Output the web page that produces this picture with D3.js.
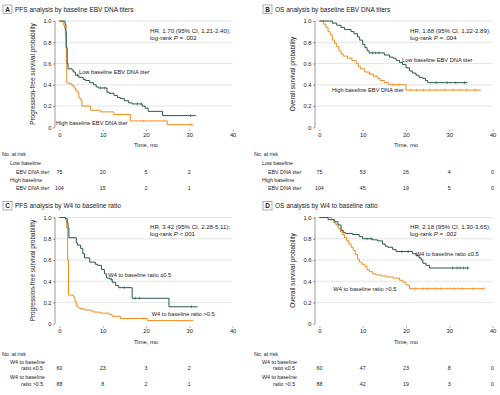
<!DOCTYPE html>
<html>
<head>
<meta charset="utf-8">
<script src="https://cdn.jsdelivr.net/npm/d3@7"></script>
<style>
  body { margin: 0; background: #fff; }
  text { font-family: "Liberation Sans", Arial, sans-serif; fill: #1a1a1a; }
</style>
</head>
<body>
<div id="chart"></div>
<script>
// Kaplan-Meier curves, 4 panels

var svgWidth = 500;
var svgHeight = 395;

// shared ticks
var timeTicks = [0, 10, 20, 30, 40];
var survTicks = [0, 0.2, 0.4, 0.6, 0.8, 1.0];

// A: PFS by baseline EBV DNA titer  [month, survival]
var pfsEbvLow = [[0,1],[1.2,1],[1.3,0.97],[1.5,0.9],[1.6,0.75],[1.8,0.6],[2.0,0.55],[2.9,0.54],[3.2,0.52],[3.7,0.49],[4.5,0.47],[5.5,0.45],[6,0.44],[7,0.42],[7.9,0.40],[8.5,0.38],[9.0,0.37],[11,0.33],[11.5,0.32],[12.6,0.30],[13.4,0.28],[14.1,0.27],[15,0.25],[16,0.23],[16.8,0.22],[19.1,0.20],[19.8,0.18],[20.5,0.15],[23.8,0.11],[31.5,0.11]];
var pfsEbvHigh = [[0,1],[0.6,1],[0.8,0.98],[1.0,0.96],[1.2,0.93],[1.4,0.85],[1.5,0.75],[1.6,0.6],[1.7,0.42],[2.0,0.41],[2.9,0.39],[3.4,0.37],[3.7,0.35],[4.1,0.33],[4.5,0.28],[4.8,0.26],[5.2,0.20],[7.2,0.16],[9.5,0.145],[12.6,0.12],[16.4,0.06],[24.9,0.025],[30.9,0.025]];
var pfsEbvLowCens = [4.2, 9.5, 10.5, 18, 19, 30.3];
var pfsEbvHighCens = [19.5, 30.3];
var riskPfsEbvLow = [75, 20, 5, 2];
var riskPfsEbvHigh = [104, 15, 2, 1];

// B: OS by baseline EBV DNA titer
var osEbvLow = [[0,1],[2.3,1],[3,0.98],[4,0.96],[5,0.94],[5.8,0.92],[7.3,0.90],[8,0.88],[8.8,0.85],[9.3,0.82],[10,0.78],[10.5,0.75],[11,0.72],[11.5,0.70],[15,0.68],[16.2,0.66],[17,0.65],[17.7,0.63],[18.5,0.61],[19.2,0.59],[20,0.56],[20.8,0.53],[21.5,0.51],[22.3,0.49],[23,0.47],[23.9,0.46],[24.5,0.44],[25,0.42],[34.2,0.42]];
var osEbvHigh = [[0,1],[0.5,1],[1,0.97],[1.5,0.94],[2,0.9],[2.5,0.87],[3,0.82],[3.5,0.79],[4,0.76],[4.5,0.72],[5,0.69],[5.5,0.67],[6.5,0.65],[7.5,0.63],[8.5,0.60],[9,0.57],[9.5,0.55],[10.5,0.52],[11.5,0.50],[12.5,0.48],[13.5,0.46],[14,0.44],[15,0.42],[16,0.40],[20,0.35],[37.3,0.35]];
var osEbvLowCens = [12.3, 13, 13.8, 27, 29.5, 31.5, 33.5];
var osEbvHighCens = [17, 18.3, 21, 22.5, 24, 25.5, 27, 29, 31, 32.5, 34, 36];
var riskOsEbvLow = [75, 53, 26, 4, 0];
var riskOsEbvHigh = [104, 45, 19, 5, 0];

// C: PFS by W4 to baseline ratio
var pfsRatioLow = [[0,1],[1.2,1],[1.4,0.99],[1.8,0.95],[2.0,0.90],[2.2,0.81],[3.9,0.76],[4.2,0.74],[4.9,0.71],[5.4,0.66],[5.8,0.62],[7.0,0.58],[8.3,0.56],[8.8,0.55],[9.7,0.51],[10.4,0.47],[10.9,0.43],[11.6,0.42],[12.2,0.39],[13,0.36],[13.7,0.34],[16.8,0.24],[25.3,0.16],[31.9,0.16]];
var pfsRatioHigh = [[0,1],[1.2,1],[1.5,0.97],[1.7,0.9],[1.9,0.6],[2.1,0.27],[3.3,0.25],[3.6,0.21],[3.9,0.17],[4.3,0.15],[4.9,0.14],[5.8,0.13],[7.3,0.12],[8,0.11],[9.5,0.10],[11.5,0.085],[12.2,0.07],[14.1,0.05],[20.3,0.03],[30.9,0.03]];
var pfsRatioLowCens = [12, 15, 17.5, 18.5, 30.5];
var pfsRatioHighCens = [19.5];
var riskPfsRatioLow = [60, 23, 3, 2];
var riskPfsRatioHigh = [88, 8, 2, 1];

// D: OS by W4 to baseline ratio
var osRatioLow = [[0,1],[1.9,1],[2.0,0.98],[3.5,0.96],[4.3,0.93],[5,0.88],[5.5,0.86],[6,0.85],[7.7,0.84],[9.2,0.82],[10,0.80],[12.3,0.79],[13.4,0.78],[14.6,0.75],[15.2,0.73],[15.8,0.72],[16.9,0.70],[17.7,0.68],[21.5,0.66],[22.3,0.64],[23,0.62],[23.5,0.60],[23.9,0.57],[24.6,0.55],[25.4,0.525],[34.6,0.525]];
var osRatioHigh = [[0,1],[2.3,1],[2.8,0.98],[3.3,0.95],[3.8,0.93],[4.3,0.90],[4.8,0.87],[5.3,0.84],[5.8,0.81],[6.3,0.78],[6.8,0.75],[7.3,0.72],[7.8,0.69],[8.3,0.65],[8.8,0.61],[9.2,0.58],[9.8,0.56],[10.5,0.54],[11,0.51],[11.5,0.49],[12.3,0.47],[13,0.46],[14.2,0.45],[15.4,0.44],[17,0.43],[18.5,0.41],[19.3,0.39],[20,0.365],[20.8,0.33],[38.1,0.33]];
var osRatioLowCens = [11, 12, 19, 20.5, 30.8, 31.8, 32.5, 33.3, 34.2];
var osRatioHighCens = [22, 24, 25, 26, 27, 28, 31, 33, 35.5, 38];
var riskOsRatioLow = [60, 47, 23, 8, 0];
var riskOsRatioHigh = [88, 42, 19, 3, 0];

var lowColor = "#275a4c";
var highColor = "#f08c1c";

var panels = [
  { key: "A", title: "PFS analysis by baseline EBV DNA titers", dx: 0, dy: 0, labDx: 0,
    ylab: "Progression-free survival probability",
    hr: "HR, 1.70 (95% CI, 1.21-2.40);", p: "= .002",
    low: pfsEbvLow, high: pfsEbvHigh, lowCens: pfsEbvLowCens, highCens: pfsEbvHighCens,
    lowLab: ["Low baseline EBV DNA titer", 79, 71.7], highLab: ["High baseline EBV DNA titer", 56, 122.7],
    rows: ["Low baseline", "EBV DNA titer", "High baseline", "EBV DNA titer"],
    riskLow: riskPfsEbvLow, riskHigh: riskPfsEbvHigh,
    rowY: [154.3, 163.3, 171.7, 180, 188.3] },
  { key: "B", title: "OS analysis by baseline EBV DNA titers", dx: 260, dy: 0, labDx: -8,
    ylab: "Overall survival probability",
    hr: "HR, 1.88 (95% CI, 1.22-2.89);", p: "= .004",
    low: osEbvLow, high: osEbvHigh, lowCens: osEbvLowCens, highCens: osEbvHighCens,
    lowLab: ["Low baseline EBV DNA titer", 142, 60], highLab: ["High baseline EBV DNA titer", 72, 90],
    rows: ["Low baseline", "EBV DNA titer", "High baseline", "EBV DNA titer"],
    riskLow: riskOsEbvLow, riskHigh: riskOsEbvHigh,
    rowY: [154.3, 163.3, 171.7, 180, 188.3] },
  { key: "C", title: "PFS analysis by W4 to baseline ratio", dx: 0, dy: 196.5, labDx: 0,
    ylab: "Progression-free survival probability",
    hr: "HR, 3.42 (95% CI, 2.28-5.11);", p: "<.001",
    low: pfsRatioLow, high: pfsRatioHigh, lowCens: pfsRatioLowCens, highCens: pfsRatioHighCens,
    lowLab: ["W4 to baseline ratio \u22640.5", 108.3, 78.8], highLab: ["W4 to baseline ratio >0.5", 151.7, 117.8],
    rows: ["W4 to baseline", "ratio \u22640.5", "W4 to baseline", "ratio >0.5"],
    riskLow: riskPfsRatioLow, riskHigh: riskPfsRatioHigh,
    rowY: [157.5, 165.2, 171.8, 180.2, 187.5] },
  { key: "D", title: "OS analysis by W4 to baseline ratio", dx: 260, dy: 196.5, labDx: -8,
    ylab: "Overall survival probability",
    hr: "HR, 2.18 (95% CI, 1.30-3.65);", p: "= .002",
    low: osRatioLow, high: osRatioHigh, lowCens: osRatioLowCens, highCens: osRatioHighCens,
    lowLab: ["W4 to baseline ratio \u22640.5", 155.7, 57.2], highLab: ["W4 to baseline ratio >0.5", 73.3, 92.5],
    rows: ["W4 to baseline", "ratio \u22640.5", "W4 to baseline", "ratio >0.5"],
    riskLow: riskOsRatioLow, riskHigh: riskOsRatioHigh,
    rowY: [157.5, 165.2, 171.8, 180.2, 187.5] }
];

var fs = 6.1;       // HR text
var titleFs = 6.5;  // panel titles
var ylabFs = 6.4;   // y-axis titles
var tickFs = 5.8;   // tick labels, x title
var curveFs = 5.7;  // curve labels
var tableFs = 5.3;  // number at risk

var svg = d3.select("#chart")
  .append("svg")
  .attr("width", svgWidth)
  .attr("height", svgHeight);

// scales (panel-local coordinates)
var xScale = d3.scaleLinear().domain([0, 40]).range([59.4, 232.6]);
var yScale = d3.scaleLinear().domain([0, 1]).range([127.3, 21]);

var line = d3.line()
  .x(d => xScale(d[0]))
  .y(d => yScale(d[1]))
  .curve(d3.curveStepAfter);

function survAt(curve, t) {
  var s = curve[0][1];
  curve.forEach(function (p) { if (p[0] <= t) s = p[1]; });
  return s;
}

panels.forEach(function (p) {
  var g = svg.append("g").attr("transform", `translate(${p.dx}, ${p.dy})`);

  // header with letter box
  g.append("rect")
    .attr("x", 3).attr("y", 5).attr("width", 9).attr("height", 8.5)
    .attr("fill", "#fff").attr("stroke", "#777").attr("stroke-width", 0.6);
  g.append("text")
    .attr("x", 7.5).attr("y", 9.3).attr("dy", "0.35em")
    .attr("text-anchor", "middle")
    .attr("font-size", titleFs).attr("font-weight", "bold")
    .text(p.key);
  g.append("text")
    .attr("x", 15).attr("y", 9.3).attr("dy", "0.35em")
    .attr("font-size", titleFs)
    .text(p.title);

  // gridlines
  g.append("g").selectAll("line")
    .data(survTicks.filter(d => d > 0))
    .enter().append("line")
    .attr("x1", 55).attr("x2", xScale(40))
    .attr("y1", d => yScale(d)).attr("y2", d => yScale(d))
    .attr("stroke", "#d4d4d4").attr("stroke-width", 0.6);

  // y axis
  var leftAxis = d3.axisLeft(yScale)
    .tickValues(survTicks)
    .tickSize(2)
    .tickPadding(1.5)
    .tickFormat(d => d === 0 ? "0" : d3.format(".1f")(d));
  var ya = g.append("g").attr("transform", "translate(55,0)").call(leftAxis);
  ya.selectAll("text").attr("font-size", tickFs).attr("font-family", null);
  ya.selectAll("line, path").attr("stroke", "#555").attr("stroke-width", 0.6);
  ya.select(".domain").attr("d", `M0,${yScale(1)}V${yScale(0)}`);

  // x axis (offset, ticks only)
  var bottomAxis = d3.axisBottom(xScale)
    .tickValues(timeTicks)
    .tickSize(1.5)
    .tickPadding(1.5)
    .tickFormat(d3.format("d"));
  var xa = g.append("g").attr("transform", `translate(0,${yScale(0) + 2.5})`).call(bottomAxis);
  xa.select(".domain").remove();
  xa.selectAll("text").attr("font-size", tickFs).attr("font-family", null);
  xa.selectAll("line").attr("stroke", "#555").attr("stroke-width", 0.6);

  // axis titles
  g.append("text")
    .attr("transform", "rotate(-90)")
    .attr("x", -74).attr("y", 33).attr("dy", "0.35em")
    .attr("text-anchor", "middle")
    .attr("font-size", ylabFs)
    .text(p.ylab);
  g.append("text")
    .attr("x", xScale(20)).attr("y", 145).attr("dy", "0.35em")
    .attr("text-anchor", "middle")
    .attr("font-size", tickFs)
    .text("Time, mo");

  // curves
  [[p.high, p.highCens, highColor], [p.low, p.lowCens, lowColor]].forEach(function (c) {
    g.append("path")
      .datum(c[0])
      .attr("d", line)
      .attr("fill", "none")
      .attr("stroke", c[2])
      .attr("stroke-width", 1);
    g.append("g").selectAll("line")
      .data(c[1])
      .enter().append("line")
      .attr("x1", d => xScale(d)).attr("x2", d => xScale(d))
      .attr("y1", d => yScale(survAt(c[0], d)) - 1.5)
      .attr("y2", d => yScale(survAt(c[0], d)) + 1.5)
      .attr("stroke", c[2]).attr("stroke-width", 0.6);
  });

  // curve labels
  [p.lowLab, p.highLab].forEach(function (l) {
    g.append("text")
      .attr("x", l[1]).attr("y", l[2]).attr("dy", "0.35em")
      .attr("font-size", curveFs)
      .text(l[0]);
  });

  // HR annotation
  g.append("text")
    .attr("x", 150).attr("y", 30.7).attr("dy", "0.35em")
    .attr("font-size", fs)
    .text(p.hr);
  var pt = g.append("text")
    .attr("x", 150).attr("y", 37.7).attr("dy", "0.35em")
    .attr("font-size", fs);
  pt.append("tspan").text("log-rank ");
  pt.append("tspan").attr("font-style", "italic").text("P");
  pt.append("tspan").text(" " + p.p);

  // number at risk table
  var labX = [2, 10, 16, 10, 16];
  var labels = ["No. at risk"].concat(p.rows);
  labels.forEach(function (t, i) {
    g.append("text")
      .attr("x", labX[i] + p.labDx + (p.key === "C" || p.key === "D" ? (i === 2 || i === 4 ? 5 : 0) : 0))
      .attr("y", p.rowY[i]).attr("dy", "0.35em")
      .attr("font-size", tableFs)
      .text(t);
  });
  [[p.riskLow, p.rowY[2]], [p.riskHigh, p.rowY[4]]].forEach(function (r) {
    g.append("g").selectAll("text")
      .data(r[0])
      .enter().append("text")
      .attr("x", (d, i) => xScale(timeTicks[i]))
      .attr("y", r[1]).attr("dy", "0.35em")
      .attr("text-anchor", "middle")
      .attr("font-size", tableFs)
      .text(d => d);
  });
});
</script>
</body>
</html>
